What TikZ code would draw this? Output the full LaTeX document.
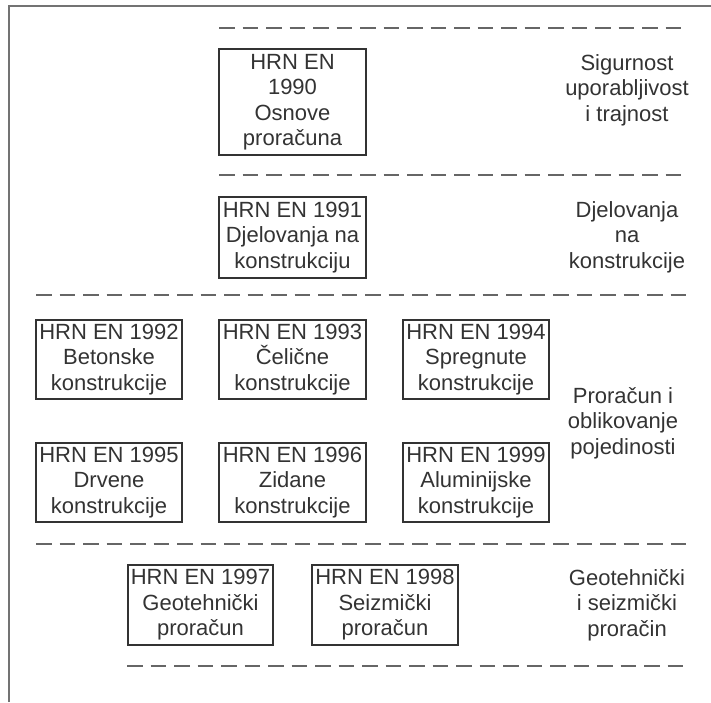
\documentclass[tikz,border=0pt]{standalone}
\usepackage{fontspec}
\setmainfont{Liberation Sans}
\begin{document}
\begin{tikzpicture}[x=1pt,y=-1pt,
  box/.style={draw=black!80, line width=1.1pt, minimum width=146pt, minimum height=80pt,
    inner sep=0pt, align=center, font=\fontsize{22}{25.5}\selectfont, text=black!80},
  lbl/.style={align=center, inner sep=0pt, font=\fontsize{22}{25.5}\selectfont, text=black!80},
  sepline/.style={draw=black!60, line width=1.3pt, dash pattern=on 15.5pt off 8pt},
  frameline/.style={draw=black!55, line width=2pt}]
\useasboundingbox (0,0) rectangle (711,702);
% frame
\coordinate (fa) at (9,702);
\coordinate (fb) at (9,6);
\coordinate (fc) at (711,6);
\draw[frameline] (fa) -- (fb) -- (fc);
% dashed separators
\coordinate (d1a) at (219,28);  \coordinate (d1b) at (688,28);
\coordinate (d2a) at (219,175); \coordinate (d2b) at (688,175);
\coordinate (d3a) at (36,295);  \coordinate (d3b) at (688,295);
\coordinate (d4a) at (36,544);  \coordinate (d4b) at (688,544);
\coordinate (d5a) at (127,666); \coordinate (d5b) at (688,666);
\draw[sepline] (d1a) -- (d1b);
\draw[sepline] (d2a) -- (d2b);
\draw[sepline] (d3a) -- (d3b);
\draw[sepline] (d4a) -- (d4b);
\draw[sepline] (d5a) -- (d5b);
% boxes
\node[box, minimum width=147pt, minimum height=106pt] (b1990) at (292.5,102) {HRN EN\\1990\\Osnove\\proračuna};
\node[box, minimum width=147pt, minimum height=81pt] (b1991) at (292.5,237.5) {HRN EN 1991\\Djelovanja na\\konstrukciju};
\node[box, minimum height=79pt] (b1992) at (109,359.5) {HRN EN 1992\\Betonske\\konstrukcije};
\node[box, minimum width=147pt, minimum height=79pt] (b1993) at (292.5,359.5) {HRN EN 1993\\Čelične\\konstrukcije};
\node[box, minimum height=79pt] (b1994) at (476,359.5) {HRN EN 1994\\Spregnute\\konstrukcije};
\node[box, minimum height=79pt] (b1995) at (109,482.5) {HRN EN 1995\\Drvene\\konstrukcije};
\node[box, minimum width=147pt, minimum height=79pt] (b1996) at (292.5,482.5) {HRN EN 1996\\Zidane\\konstrukcije};
\node[box, minimum height=79pt] (b1999) at (476,482.5) {HRN EN 1999\\Aluminijske\\konstrukcije};
\node[box, minimum width=145pt] (b1997) at (200.5,605) {HRN EN 1997\\Geotehnički\\proračun};
\node[box] (b1998) at (385,605) {HRN EN 1998\\Seizmički\\proračun};
% right labels
\node[lbl] (l1) at (627,90) {Sigurnost\\uporabljivost\\i trajnost};
\node[lbl] (l2) at (627,237) {Djelovanja\\na\\konstrukcije};
\node[lbl] (l3) at (623,423) {Proračun i\\oblikovanje\\pojedinosti};
\node[lbl] (l4) at (627,605) {Geotehnički\\i seizmički\\proračin};
\end{tikzpicture}
\end{document}
